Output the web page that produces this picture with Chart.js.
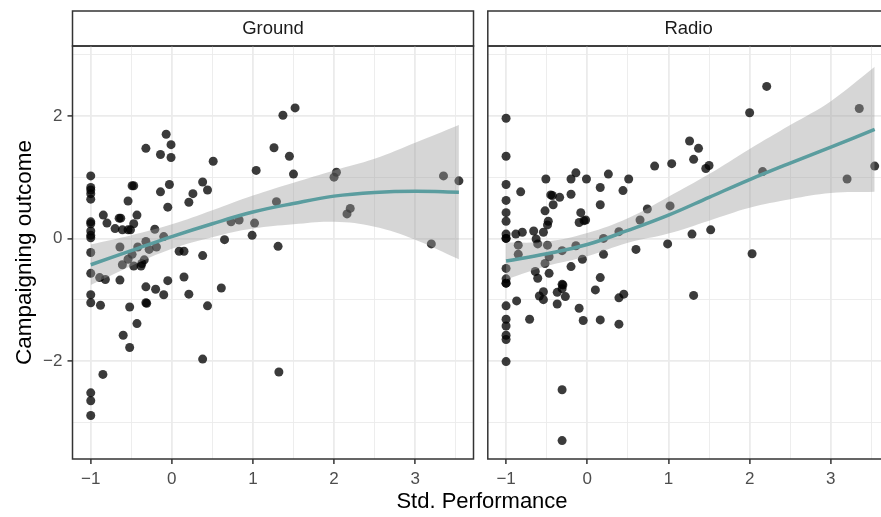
<!DOCTYPE html>
<html>
<head>
<meta charset="utf-8">
<script src="https://cdn.jsdelivr.net/npm/chart.js@4.4.1/dist/chart.umd.min.js"></script>
<style>
  html, body { margin: 0; padding: 0; background: #fff; overflow: hidden; width: 881px; height: 517px; }
  canvas { position: absolute; top: 0; }
  #xtitle { position: absolute; left: 332px; width: 300px; top: 490px; text-align: center;
    font: 22px/22px "Liberation Sans", Arial, sans-serif; color: #000; }
</style>
</head>
<body>
<canvas id="ground" width="478" height="517" style="left:0"></canvas>
<canvas id="radio" width="421" height="517" style="left:476px"></canvas>
<div id="xtitle">Std. Performance</div>
<script>
// axis breaks
const xMajor = [-1, 0, 1, 2, 3];
const xMinor = [-0.5, 0.5, 1.5, 2.5, 3.5];
const yMajor = [-2, 0, 2];
const yMinor = [-3, -1, 1, 3];
const xRange = [-1.225, 3.72];
const yRange = [-3.6, 3.14];

// Ground panel points
const groundX = [-1, -1, -1, -1, -1, -1, -1, -1, -1, -1, -1, -1, -1, -1, -1, -1, -1,
  -0.89, -0.82, -0.88, -0.85, -0.845, -0.8, -0.7, -0.65, -0.63, -0.61, -0.54, -0.51, -0.54, -0.49, -0.47,
  -0.43, -0.47, -0.64, -0.61, -0.54, -0.49, -0.47, -0.42, -0.37, -0.38, -0.34, -0.64, -0.52, -0.6, -0.52,
  -0.43, -0.32, -0.32, -0.31, -0.32, -0.32, -0.28, -0.21, -0.19, -0.2, -0.14, -0.14, -0.07, -0.01, -0.01,
  -0.03, -0.05, -0.1, -0.1, -0.05, 0.09, 0.15, 0.15, 0.21, 0.21, 0.26, 0.38, 0.44, 0.38, 0.44, 0.38,
  0.51, 0.61, 0.65, 0.73, 0.83, 0.99, 1.02, 1.04, 1.26, 1.37, 1.52, 1.45, 1.5, 1.29, 1.31, 1.32,
  2.03, 2.0, 2.2, 2.16, 3.35, 3.54, 3.2];
const groundY = [1.02, 0.83, 0.79, 0.73, 0.64, 0.27, 0.24, 0.12, 0.05, 0.01, -0.23, -0.57, -0.92, -1.05, -2.52, -2.65, -2.89,
  -0.64, -0.67, -1.09, -2.22, 0.38, 0.25, 0.16, 0.33, 0.33, 0.14, 0.14, 0.14, 0.61, 0.86, 0.86,
  0.38, 0.24, -0.14, -0.43, -0.34, -0.26, -0.45, -0.14, -0.41, -0.45, -0.35, -0.68, -1.12, -1.58, -1.78,
  -1.39, -0.79, -1.05, -1.06, 1.47, -0.05, -0.18, 0.15, -0.14, -0.83, 1.37, 0.76, 1.7, 1.53, 1.32,
  0.88, 0.51, 0.03, -0.92, -0.69, -0.21, -0.21, -0.63, -0.91, 0.59, 0.73, 0.92, 0.79, -0.28, -1.1, -1.97,
  1.26, -0.81, -0.02, 0.27, 0.3, 0.05, 0.25, 1.11, 1.48, 2.01, 2.13, 1.34, 1.05, 0.6, -0.13, -2.18,
  1.08, 1.0, 0.49, 0.4, 1.02, 0.94, -0.09];

// Radio panel points
const radioX = [-1, -1, -1, -1, -1, -1, -1, -1, -1, -1, -1, -1, -1, -1, -1, -1, -1, -1, -1,
  -0.82, -0.88, -0.8, -0.85, -0.85, -0.66, -0.63, -0.61, -0.54, -0.51, -0.52, -0.48, -0.49, -0.43, -0.45,
  -0.34, -0.42, -0.49, -0.52, -0.47, -0.64, -0.61, -0.47, -0.31, -0.2, -0.14, -0.2, -0.2, -0.14, -0.08,
  -0.1, -0.02, -0.04, -0.06, -0.01, 0.16, 0.16, 0.2, 0.2, 0.16, 0.26, 0.44, 0.51, 0.39, 0.6, 0.65,
  0.74, 0.83, 1.04, 1.02, 0.99, -0.87, -0.71, -0.59, -0.54, -0.54, -0.37, -0.37, -0.31, -0.3, -0.31,
  -0.27, -0.31, -0.31, -0.1, -0.05, 0.1, 0.16, 0.39, 0.45, 0.39, 2.21, 2.0, 1.26, 1.37, 1.31, 1.5,
  1.46, 2.16, 3.35, 3.54, 3.2, 1.29, 1.52, 2.03, 1.31];
const radioY = [1.96, 1.34, 0.88, 0.62, 0.42, 0.28, 0.07, 0.0, 0.0, -0.49, -0.66, -0.73, -0.73, -1.1, -1.32, -1.43, -1.58, -1.65, -2.01,
  0.76, 0.07, 0.1, -0.11, -0.26, 0.12, -0.01, -0.09, 0.1, 0.97, 0.45, 0.28, 0.22, 0.7, 0.71,
  0.67, 0.55, -0.11, -0.41, -0.3, -0.54, -0.65, -0.57, -0.2, 0.97, 1.07, 0.72, -0.46, -0.12, 0.42,
  0.26, 0.3, 0.29, -0.34, 0.97, 0.83, 0.55, 0.0, -0.26, -0.64, 1.05, 0.78, 0.97, 0.11, -0.18, 0.3,
  0.48, 1.18, 1.22, 0.53, -0.09, -1.02, -1.32, -0.94, -0.87, -1.0, -0.88, -1.07, -0.75, -0.76, -0.82,
  -0.95, -2.47, -3.3, -1.14, -1.34, -0.84, -1.33, -0.97, -0.91, -1.4, 2.48, 2.05, 1.59, 1.47, 1.29, 1.19,
  1.14, 1.09, 2.12, 1.18, 0.97, 0.07, 0.14, -0.25, -0.93];

// smoother and its band
const smoothX = [-1, -0.5, 0, 0.5, 1, 1.5, 2, 2.5, 3, 3.54];
const groundFit = [-0.43, -0.2, 0.03, 0.24, 0.43, 0.57, 0.69, 0.75, 0.77, 0.755];
const groundUpper = [-0.1, 0.05, 0.23, 0.46, 0.7, 0.91, 1.11, 1.3, 1.56, 1.85];
const groundLower = [-0.76, -0.45, -0.17, 0.02, 0.16, 0.23, 0.27, 0.19, -0.02, -0.34];
const radioFit = [-0.37, -0.25, -0.1, 0.13, 0.38, 0.67, 0.96, 1.23, 1.49, 1.78];
const radioUpper = [-0.07, -0.05, 0.09, 0.33, 0.68, 1.05, 1.46, 1.85, 2.24, 2.8];
const radioLower = [-0.67, -0.45, -0.29, -0.07, 0.08, 0.29, 0.5, 0.64, 0.74, 0.76];

const FONT = '"Liberation Sans", Arial, sans-serif';
const pairs = (xs, ys) => xs.map((x, i) => ({ x: x, y: ys[i] }));
const minus = v => (v < 0 ? '\u2212' + Math.abs(v) : String(v));

// strip box behind the facet label + dark panel border
const facetPlugin = {
  id: 'facet',
  beforeDraw(chart) {
    const t = chart.titleBlock;
    if (!t) return;
    const c = chart.ctx;
    c.save();
    c.fillStyle = '#fff';
    c.fillRect(t.left, t.top, t.width, t.height);
    c.strokeStyle = '#333';
    c.lineWidth = 1.5;
    c.strokeRect(t.left, t.top, t.width, t.height);
    c.restore();
  },
  afterDatasetsDraw(chart) {
    const a = chart.chartArea;
    const c = chart.ctx;
    c.save();
    c.strokeStyle = '#333';
    c.lineWidth = 1.5;
    c.strokeRect(a.left, a.top, a.right - a.left, a.bottom - a.top);
    c.restore();
  }
};

function makePanel(id, label, xs, ys, fit, upper, lower, showY, yWidth, padRight) {
  const isMajor = (list, v) => list.indexOf(v) >= 0;
  return new Chart(document.getElementById(id), {
    type: 'scatter',
    data: {
      datasets: [
        { type: 'line', data: pairs(smoothX, fit), borderColor: '#5B9D9F', borderWidth: 3.5,
          pointRadius: 0, fill: false, tension: 0.4 },
        { type: 'line', data: pairs(smoothX, upper), borderWidth: 0, pointRadius: 0,
          backgroundColor: 'rgba(153,153,153,0.4)', fill: '+1', tension: 0.4 },
        { type: 'line', data: pairs(smoothX, lower), borderWidth: 0, pointRadius: 0,
          fill: false, tension: 0.4 },
        { data: pairs(xs, ys), pointRadius: 4.5, pointBackgroundColor: 'rgba(0,0,0,0.77)',
          pointBorderWidth: 0 }
      ]
    },
    options: {
      responsive: false,
      animation: false,
      events: [],
      layout: { padding: { top: 11, right: padRight, bottom: 0, left: 0 } },
      plugins: {
        legend: { display: false },
        tooltip: { enabled: false },
        title: { display: true, text: label, fullSize: false, color: '#1A1A1A',
          font: { family: FONT, size: 18.5, weight: 'normal', lineHeight: 1 },
          padding: { top: 8.25, bottom: 8.25 } }
      },
      scales: {
        x: {
          type: 'linear', min: xRange[0], max: xRange[1],
          afterBuildTicks: s => { s.ticks = xMajor.concat(xMinor).sort((a, b) => a - b).map(v => ({ value: v })); },
          afterFit: s => { s.height = 58; },
          border: { display: false },
          grid: {
            color: '#EBEBEB',
            lineWidth: c => (isMajor(xMajor, c.tick.value) ? 1.8 : 0.9),
            tickColor: c => (isMajor(xMajor, c.tick.value) ? '#333' : 'rgba(0,0,0,0)'),
            tickWidth: 1.5, tickLength: 5
          },
          ticks: {
            autoSkip: false, maxRotation: 0, padding: 5, color: '#4D4D4D',
            font: { family: FONT, size: 17 },
            callback: v => (isMajor(xMajor, v) ? minus(v) : '')
          }
        },
        y: {
          type: 'linear', min: yRange[0], max: yRange[1],
          afterBuildTicks: s => { s.ticks = yMajor.concat(yMinor).sort((a, b) => a - b).map(v => ({ value: v })); },
          afterFit: s => { s.width = yWidth; },
          border: { display: false },
          title: { display: showY, text: 'Campaigning outcome', color: '#000',
            font: { family: FONT, size: 22.5 }, padding: { top: 11, bottom: 0 } },
          grid: {
            color: '#EBEBEB',
            lineWidth: c => (isMajor(yMajor, c.tick.value) ? 1.8 : 0.9),
            tickColor: c => (showY && isMajor(yMajor, c.tick.value) ? '#333' : 'rgba(0,0,0,0)'),
            tickWidth: 1.5, tickLength: 5, drawTicks: showY
          },
          ticks: {
            display: showY, padding: 5, color: '#4D4D4D',
            font: { family: FONT, size: 17 },
            callback: v => (isMajor(yMajor, v) ? minus(v) : '')
          }
        }
      }
    },
    plugins: [facetPlugin]
  });
}

makePanel('ground', 'Ground', groundX, groundY, groundFit, groundUpper, groundLower, true, 72.5, 1);
makePanel('radio', 'Radio', radioX, radioY, radioFit, radioUpper, radioLower, false, 11.8, 7.7);
</script>
</body>
</html>
